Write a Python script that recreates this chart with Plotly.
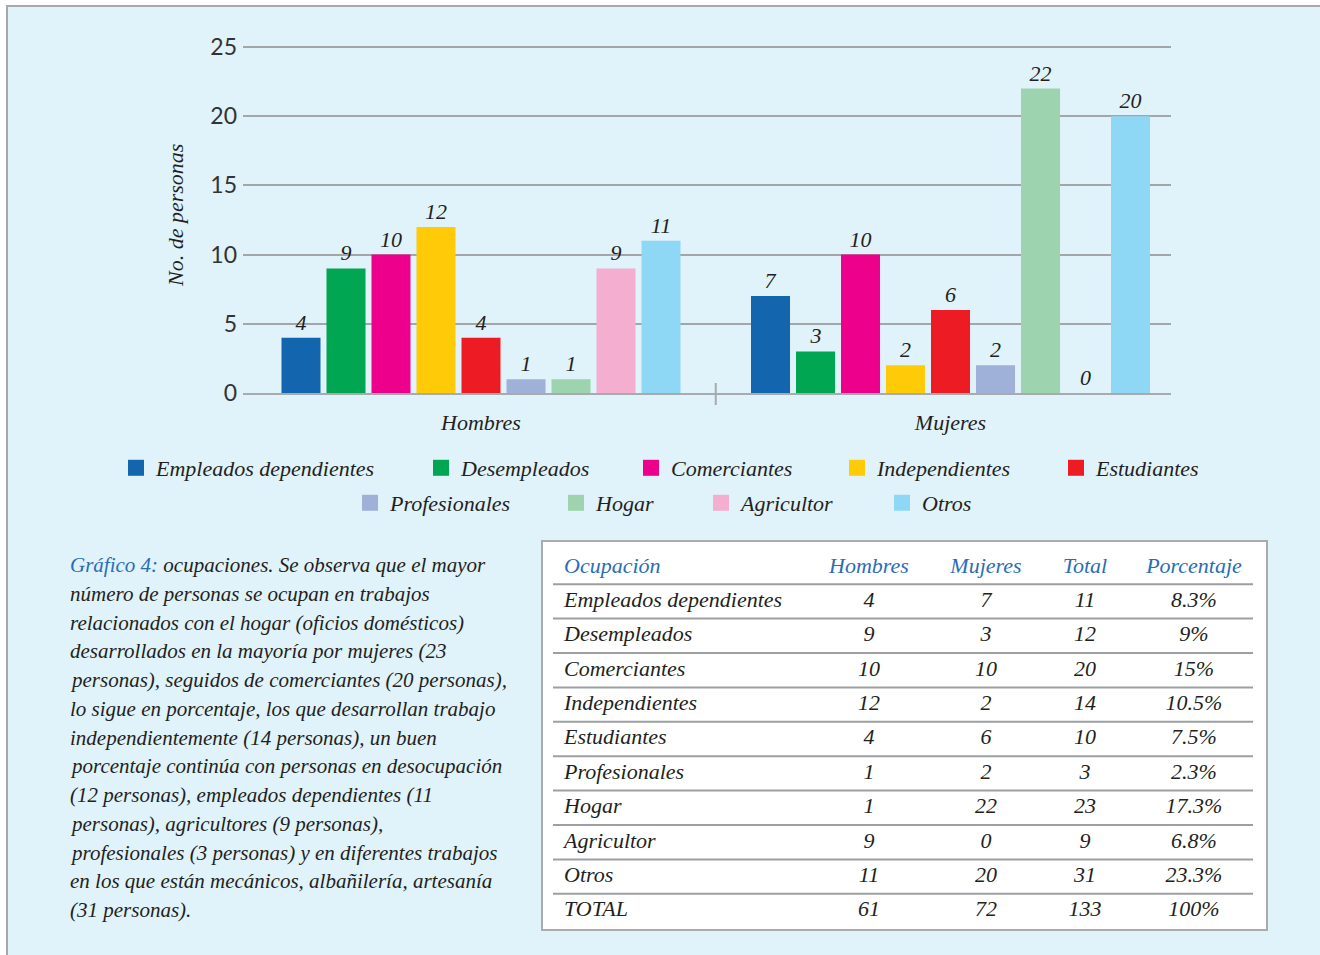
import plotly.graph_objects as go

W, H = 1320, 955

# ---------------- data ----------------
groups = ["Hombres", "Mujeres"]
occupations = ["Empleados dependientes", "Desempleados", "Comerciantes", "Independientes",
               "Estudiantes", "Profesionales", "Hogar", "Agricultor", "Otros"]
hombres = [4, 9, 10, 12, 4, 1, 1, 9, 11]
mujeres = [7, 3, 10, 2, 6, 2, 22, 0, 20]
porcentaje = ["8.3%", "9%", "15%", "10.5%", "7.5%", "2.3%", "17.3%", "6.8%", "23.3%", "100%"]
y_ticks = [0, 5, 10, 15, 20, 25]
table_header = ["Ocupación", "Hombres", "Mujeres", "Total", "Porcentaje"]
total_label = "TOTAL"
y_title = "No. de personas"
paragraph = [
    "<span style='color:#2a6db5'>Gráfico 4:</span> ocupaciones. Se observa que el mayor",
    "número de personas se ocupan en trabajos",
    "relacionados con el hogar (oficios domésticos)",
    "desarrollados en la mayoría por mujeres (23",
    "personas), seguidos de comerciantes (20 personas),",
    "lo sigue en porcentaje, los que desarrollan trabajo",
    "independientemente (14 personas), un buen",
    "porcentaje continúa con personas en desocupación",
    "(12 personas), empleados dependientes (11",
    "personas), agricultores (9 personas),",
    "profesionales (3 personas) y en diferentes trabajos",
    "en los que están mecánicos, albañilería, artesanía",
    "(31 personas).",
]

# ---------------- styles ----------------
colors = ["#1366ae", "#00a651", "#ec008c", "#ffcb08", "#ed1c24",
          "#9fb1d9", "#9dd3ae", "#f4aed0", "#8ed8f5"]
SERIF = "Liberation Serif, Times New Roman, DejaVu Serif, serif"
DARK = "#231f20"
BLUE = "#2a6db5"
GRID = "#a3a6a9"
BG = "#e0f2fa"
Y_TOP = 25.1  # a hair above the top tick so its gridline is drawn


def px(x):
    return x / W


def py(y):
    return 1 - y / H


def sfont(size=22, color=DARK):
    return dict(family=SERIF, size=size, style="italic", color=color)


fig = go.Figure()

# bars
for i, occ in enumerate(occupations):
    fig.add_trace(go.Bar(
        x=groups, y=[hombres[i], mujeres[i]], name=occ,
        marker=dict(color=colors[i], line=dict(width=0)),
        texttemplate="%{y}", textposition="outside", constraintext="none",
        textfont=sfont(22), cliponaxis=False, showlegend=False,
        legendgroup=occ, hoverinfo="skip",
    ))

# legend entries (one legend per entry for exact placement)
legend_rows = [[136, 441, 651, 857, 1076], [370, 576, 721, 902]]
legend_y = [468, 503]
legend_pos = [(cx, legend_y[r]) for r, row in enumerate(legend_rows) for cx in row]
for i, occ in enumerate(occupations):
    lname = "legend" if i == 0 else f"legend{i + 1}"
    fig.add_trace(go.Scatter(
        x=[None], y=[None], mode="markers", name=occ,
        marker=dict(symbol="square", size=16, color=colors[i], line=dict(width=0)),
        legend=lname, legendgroup=occ, showlegend=True, hoverinfo="skip",
    ))
    cx, cy = legend_pos[i]
    fig.layout[lname] = dict(
        x=px(cx - 20), y=py(cy), xanchor="left", yanchor="middle",
        orientation="v", bgcolor="rgba(0,0,0,0)", borderwidth=0,
        font=sfont(22), itemclick=False, itemdoubleclick=False,
    )

# table on its own hidden axes
n_rows = len(occupations) + 2
row_idx = list(range(n_rows))
totals = [h + m for h, m in zip(hombres, mujeres)]
col_label = [table_header[0]] + occupations + [total_label]
col_h = [table_header[1]] + [str(v) for v in hombres] + [str(sum(hombres))]
col_m = [table_header[2]] + [str(v) for v in mujeres] + [str(sum(mujeres))]
col_t = [table_header[3]] + [str(v) for v in totals] + [str(sum(totals))]
col_p = [table_header[4]] + porcentaje
text_colors = [BLUE] + [DARK] * (n_rows - 1)

fig.add_trace(go.Scatter(
    x=[11] * n_rows, y=row_idx, mode="text", text=col_label,
    textposition="middle right", textfont=dict(family=SERIF, size=22, style="italic", color=text_colors),
    xaxis="x2", yaxis="y2", showlegend=False, hoverinfo="skip", cliponaxis=False,
))
for cx, col in zip([316, 433, 532, 641], [col_h, col_m, col_t, col_p]):
    fig.add_trace(go.Scatter(
        x=[cx] * n_rows, y=row_idx, mode="text", text=col,
        textposition="middle center",
        textfont=dict(family=SERIF, size=22, style="italic", color=text_colors),
        xaxis="x2", yaxis="y2", showlegend=False, hoverinfo="skip", cliponaxis=False,
    ))

shapes = [
    # page frame
    dict(type="rect", xref="paper", yref="paper", x0=px(7), y0=py(6), x1=px(1340), y1=py(975),
         fillcolor=BG, line=dict(color="#a6a8aa", width=2), layer="below"),
    # table box
    dict(type="rect", xref="paper", yref="paper", x0=px(542), y0=py(541), x1=px(1267), y1=py(930),
         fillcolor="white", line=dict(color="#a9abad", width=2), layer="below"),
    # category separator tick
    dict(type="line", xref="x", yref="paper", x0=0.5, x1=0.5, y0=py(383), y1=py(405),
         line=dict(color="#a6abb0", width=2)),
]
for k in range(n_rows - 1):
    shapes.append(dict(type="line", xref="x2", yref="y2", x0=0, x1=700, y0=k + 0.5, y1=k + 0.5,
                       line=dict(color="#9d9fa1", width=2)))

annotations = [
    dict(text=y_title, x=px(175), y=py(216), xref="paper", yref="paper", textangle=-90,
         showarrow=False, font=sfont(22), xanchor="center", yanchor="middle"),
]
for j, line in enumerate(paragraph):
    annotations.append(dict(text=line, x=px(68), y=py(565 + 28.75 * j), xref="paper", yref="paper",
                            xanchor="left", yanchor="middle", showarrow=False, font=sfont(21)))

px_per_unit = (393 - 47) / 25
fig.update_layout(
    width=W, height=H, margin=dict(l=0, r=0, t=0, b=0, autoexpand=False),
    paper_bgcolor="white", plot_bgcolor="rgba(0,0,0,0)",
    barmode="group", bargap=0.1374, bargroupgap=0.133,
    xaxis=dict(domain=[px(243), px(1171)], range=[-0.5069, 1.4696], type="category",
               categoryorder="array", categoryarray=groups,
               showline=True, linecolor="#a6abb0", linewidth=2, ticks="",
               tickfont=sfont(22), ticklabelstandoff=9, showgrid=False, zeroline=False,
               fixedrange=True),
    yaxis=dict(domain=[py(393), py(393 - Y_TOP * px_per_unit)], range=[0, Y_TOP], tickvals=y_ticks,
               showgrid=True, gridcolor=GRID, gridwidth=2, zeroline=False, showline=False,
               ticks="", tickfont=dict(family="Lato", size=23, color="#333333"),
               ticklabelstandoff=5, fixedrange=True),
    xaxis2=dict(domain=[px(553), px(1253)], range=[0, 700], visible=False, anchor="y2",
                fixedrange=True),
    yaxis2=dict(domain=[py(567 + 34.4 * 10.5), py(567 - 34.4 * 0.5)], range=[10.5, -0.5],
                visible=False, anchor="x2", fixedrange=True),
    shapes=shapes, annotations=annotations,
)

fig.write_html("out.html", config={"displayModeBar": False},
               post_script="document.body.style.margin='0';document.body.style.overflow='hidden';")
